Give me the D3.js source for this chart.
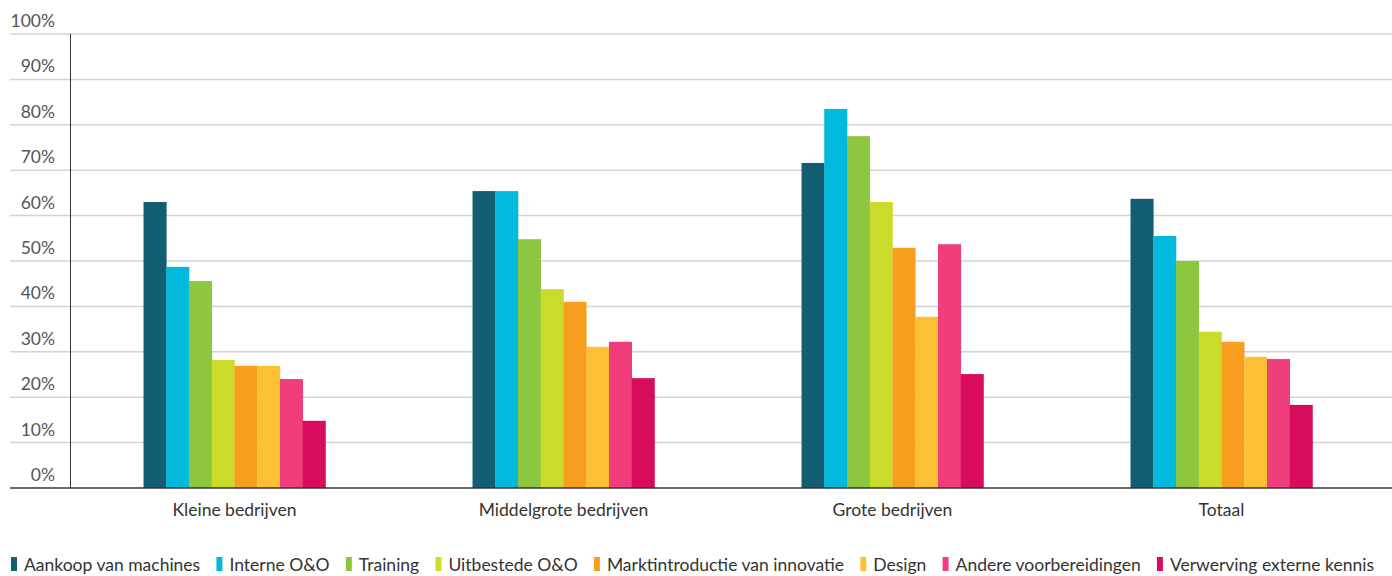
<!DOCTYPE html>
<html lang="nl">
<head>
<meta charset="UTF-8">
<script src="https://d3js.org/d3.v7.min.js"></script>
<style>
  body { margin: 0; background: #fff; }
  text { font-family: Lato, "Open Sans", sans-serif; }
  .grid line { stroke: #d3d3d3; stroke-width: 1.5; }
  .tick-label { font-size: 17.5px; fill: #555; }
  .cat-label { font-size: 17.5px; fill: #333; }
  .legend text { font-size: 17.5px; fill: #333; }
</style>
</head>
<body>
<svg width="1392" height="576"></svg>
<script>
// categorieën en reeksen
const categories = ["Kleine bedrijven", "Middelgrote bedrijven", "Grote bedrijven", "Totaal"];
const series = ["Aankoop van machines", "Interne O&O", "Training", "Uitbestede O&O",
  "Marktintroductie van innovatie", "Design", "Andere voorbereidingen", "Verwerving externe kennis"];
const colors = ["#135e72", "#00b9dc", "#8dc63f", "#cbdb2a", "#f89e1f", "#fdbf33", "#ef3e7b", "#d90b5c"];

// waarden per reeks (%), in volgorde van categories
const aankoop    = [63.0, 65.4, 71.6, 63.7];
const interne    = [48.7, 65.4, 83.5, 55.5];
const training   = [45.6, 54.8, 77.5, 50.0];
const uitbesteed = [28.2, 43.8, 63.0, 34.4];
const markt      = [26.9, 41.0, 52.9, 32.2];
const design     = [26.9, 31.1, 37.7, 28.9];
const andere     = [24.0, 32.2, 53.7, 28.4];
const verwerving = [14.8, 24.2, 25.1, 18.3];
const values = [aankoop, interne, training, uitbesteed, markt, design, andere, verwerving];
const yTicks = [0, 10, 20, 30, 40, 50, 60, 70, 80, 90, 100];

const svg = d3.select("svg");

const x0 = d3.scaleBand().domain(categories).range([70, 1386]).paddingInner(0.447).paddingOuter(0.2235);
const x1 = d3.scaleBand().domain(series).range([0, x0.bandwidth()]);
const y = d3.scaleLinear().domain([0, 100]).range([488, 34]);

// rasterlijnen
svg.append("g").attr("class", "grid")
  .selectAll("line").data(yTicks.filter(d => d > 0)).join("line")
  .attr("x1", 10).attr("x2", 1392)
  .attr("y1", d => y(d)).attr("y2", d => y(d));

// y labels
svg.append("g").selectAll("text").data(yTicks).join("text")
  .attr("class", "tick-label")
  .attr("x", 55).attr("y", d => y(d) - 7)
  .attr("text-anchor", "end")
  .text(d => d + "%");

// balken
const groups = svg.append("g").selectAll("g").data(categories).join("g")
  .attr("transform", d => `translate(${x0(d)},0)`);
groups.selectAll("rect")
  .data((c, ci) => series.map((s, si) => ({ s, si, v: values[si][ci] })))
  .join("rect")
  .attr("x", d => x1(d.s))
  .attr("width", x1.bandwidth() + 0.3)
  .attr("y", d => y(d.v))
  .attr("height", d => y(0) - y(d.v))
  .attr("fill", d => colors[d.si]);

// assen
svg.append("line").attr("x1", 70.5).attr("x2", 70.5).attr("y1", y(100)).attr("y2", y(0))
  .attr("stroke", "#333").attr("stroke-width", 1);
svg.append("line").attr("x1", 10).attr("x2", 1392).attr("y1", y(0)).attr("y2", y(0))
  .attr("stroke", "#333").attr("stroke-width", 1.5);

// categorie labels
svg.append("g").selectAll("text").data(categories).join("text")
  .attr("class", "cat-label")
  .attr("x", d => x0(d) + x0.bandwidth() / 2)
  .attr("y", 516)
  .attr("text-anchor", "middle")
  .text(d => d);

// legenda: over de breedte verdeeld
const legend = svg.append("g").attr("class", "legend");
const items = legend.selectAll("g").data(series).join("g");
items.append("rect").attr("width", 6).attr("height", 14).attr("y", 557)
  .attr("fill", (d, i) => colors[i]);
items.append("text").attr("x", 13).attr("y", 571).text(d => d);
const widths = [];
items.each(function () { widths.push(13 + d3.select(this).select("text").node().getComputedTextLength()); });
const left = 11, right = 1374;
const gap = (right - left - d3.sum(widths)) / (series.length - 1);
let pos = left;
items.attr("transform", (d, i) => { const t = `translate(${pos},0)`; pos += widths[i] + gap; return t; });
</script>
</body>
</html>
